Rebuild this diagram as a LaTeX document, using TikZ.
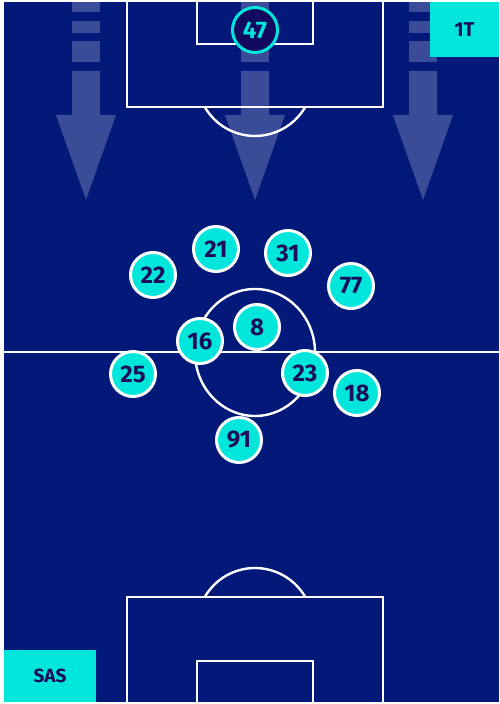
\documentclass[tikz,border=0pt]{standalone}
\usepackage{fontspec}
\setmainfont{Fira Sans}
\usepackage{tikz}
\usetikzlibrary{arrows.meta, positioning}

\definecolor{pitchblue}{RGB}{3,25,122}
\definecolor{teamcyan}{RGB}{0,230,218}
\definecolor{inknavy}{RGB}{27,12,92}
\definecolor{keeperfill}{RGB}{18,10,94}

% one translucent attacking arrow (centre x)
\newcommand{\pressarrow}[1]{%
  \fill[arrowfill] (#1-14,702) rectangle (#1+14,692);
  \fill[arrowfill] (#1-14,683) rectangle (#1+14,671);
  \fill[arrowfill] (#1-14,663) rectangle (#1+14,642);
  \fill[arrowfill] (#1-14,633) -- (#1-14,589) -- (#1-30,589) -- (#1,504)
    -- (#1+30,589) -- (#1+14,589) -- (#1+14,633) -- cycle;
}

\begin{document}
\begin{tikzpicture}[
    x=1pt, y=1pt,
    pitchline/.style={draw=white, line width=2.4pt},
    arrowfill/.style={fill=white, fill opacity=0.22},
    player/.style={circle, fill=teamcyan, draw=white, line width=3pt,
      minimum size=45pt, inner sep=0pt, text=inknavy,
      font=\fontsize{24}{24}\selectfont\bfseries},
    keeper/.style={player, fill=keeperfill, draw=teamcyan, text=teamcyan},
    tag/.style={fill=teamcyan, text=inknavy, inner sep=0pt,
      font=\fontsize{20}{20}\selectfont\bfseries}
]
\useasboundingbox (0,0) rectangle (499,704);
\fill[white] (0,0) rectangle (499,704);

% pitch
\fill[pitchblue] (4,2) rectangle (499,702);

% markings
\draw[pitchline] (127,702) -- (127,597) -- (383,597) -- (383,702);
\draw[pitchline] (197,702) -- (197,660) -- (313,660) -- (313,702);
\draw[pitchline] (255,626) ++(-30:58) arc[start angle=-30, end angle=-150, radius=58];
\draw[pitchline] (4,352) -- (499,352);
\draw[pitchline] (255,351.5) ellipse[x radius=60, y radius=63.5];
\draw[pitchline] (127,2) -- (127,107) -- (383,107) -- (383,2);
\draw[pitchline] (197,2) -- (197,43) -- (313,43) -- (313,2);
\draw[pitchline] (255,78) ++(30:58) arc[start angle=30, end angle=150, radius=58];

% pressing arrows
\pressarrow{86}
\pressarrow{255}
\pressarrow{423}

% players
\node[keeper] (p47) at (255,674) {47};
\node[player] (p21) at (216,455) {21};
\node[player] (p31) at (288,451) {31};
\node[player] (p22) at (153,429) {22};
\node[player] (p77) at (351,418) {77};
\node[player] (p8) at (257,377) {8};
\node[player] (p16) at (200,363) {16};
\node[player] (p25) at (133,330) {25};
\node[player] (p23) at (305,331) {23};
\node[player] (p18) at (357,311) {18};
\node[player] (p91) at (239,264) {91};

% labels
\node[tag, minimum width=69pt, minimum height=55pt] (lbl1T) at (464.5,674.5) {1T};
\node[tag, minimum width=92pt, minimum height=52pt, font=\fontsize{19}{19}\selectfont\bfseries] (lblSAS) at (50,28) {SAS};

\end{tikzpicture}
\end{document}
